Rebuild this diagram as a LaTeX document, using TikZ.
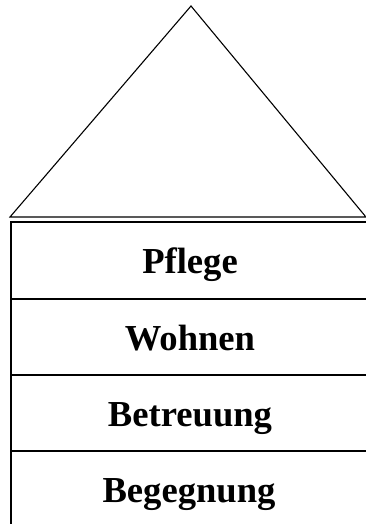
\documentclass[tikz,border=0pt]{standalone}
\usepackage{fontspec}
\setmainfont{Liberation Serif}
\begin{document}
\begin{tikzpicture}[x=1pt,y=-1pt,
  roof/.style={line width=1.1pt},
  storey/.style={line width=2pt},
  label/.style={font=\fontsize{36.6}{40}\selectfont\bfseries, anchor=base, inner sep=0pt}]
\useasboundingbox (0,0) rectangle (366,524);
% roof, its right eave running past the right edge
\coordinate (apex) at (191,6);
\coordinate (eaveL) at (10,217);
\coordinate (eaveM) at (366,217);
\coordinate (roofR) at (365.3,216.2);
\draw[roof, line join=miter] (roofR) -- (apex) -- (eaveL) -- (eaveM);
% storeys: left wall and floor lines, open to the right
\coordinate (t0) at (11,222);
\coordinate (t1) at (11,299);
\coordinate (t2) at (11,375);
\coordinate (t3) at (11,451);
\coordinate (t4) at (11,524);
\coordinate (r0) at (366,222);
\coordinate (r1) at (366,299);
\coordinate (r2) at (366,375);
\coordinate (r3) at (366,451);
\draw[storey] (t4) -- (t0) -- (r0);
\draw[storey] (t1) -- (r1);
\draw[storey] (t2) -- (r2);
\draw[storey] (t3) -- (r3);
\node[label] (pflege) at (190,273) {Pflege};
\node[label] (wohnen) at (190,350) {Wohnen};
\node[label] (betreuung) at (190,426) {Betreuung};
\node[label] (begegnung) at (189,502) {Begegnung};
\end{tikzpicture}
\end{document}
